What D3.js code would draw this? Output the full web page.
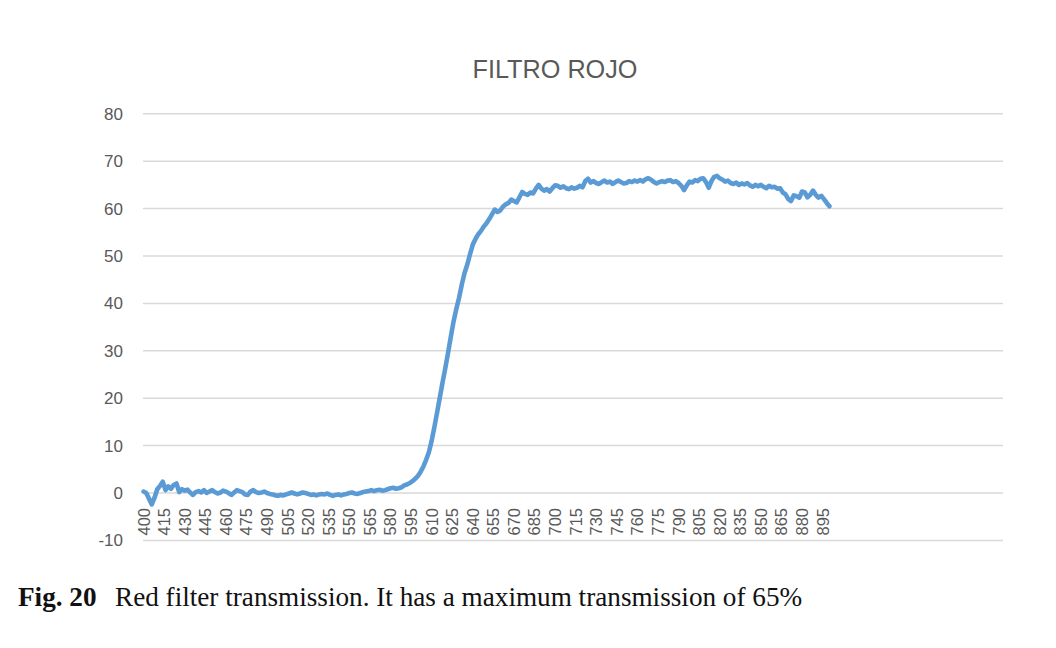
<!DOCTYPE html>
<html>
<head>
<meta charset="utf-8">
<script src="https://cdn.jsdelivr.net/npm/d3@7"></script>
<style>
  html, body { margin: 0; padding: 0; background: #fff; }
  svg { display: block; }
</style>
</head>
<body>
<svg id="chart" width="1056" height="648"></svg>
<script>
// ---- data ----
const title = "FILTRO ROJO";
const captionBold = "Fig. 20";
const captionText = "Red filter transmission. It has a maximum transmission of 65%";

const wavelengthStart = 400;
const wavelengthStep = 2;
const transmission = [
  0.3, 0.0, -1.2, -2.4, -1.0, 0.8, 1.5, 2.4, 0.6, 1.4,
  0.9, 1.7, 2.0, 0.2, 0.8, 0.5, 0.7, 0.1, -0.4, 0.2,
  0.4, 0.1, 0.6, 0.0, 0.3, 0.6, 0.2, -0.1, 0.1, 0.5,
  0.3, 0.0, -0.4, 0.1, 0.6, 0.4, 0.2, -0.3, -0.4, 0.3,
  0.6, 0.2, 0.0, 0.1, 0.3, 0.0, -0.2, -0.3, -0.5, -0.6,
  -0.4, -0.5, -0.3, -0.1, 0.1, -0.1, -0.3, -0.1, 0.1, 0.0,
  -0.2, -0.4, -0.3, -0.5, -0.3, -0.2, -0.3, -0.1, -0.4, -0.6,
  -0.4, -0.3, -0.5, -0.3, -0.2, 0.0, 0.1, -0.1, -0.2, 0.0,
  0.2, 0.3, 0.4, 0.6, 0.4, 0.6, 0.7, 0.5, 0.6, 0.8,
  1.0, 1.1, 0.9, 1.0, 1.2, 1.6, 1.8, 2.1, 2.5, 3.0,
  3.6, 4.5, 5.6, 7.0, 8.6, 11.0, 13.9, 17.0, 20.2, 23.4,
  26.4, 29.6, 33.0, 36.2, 38.8, 41.2, 44.0, 46.4, 48.2, 50.4,
  52.4, 53.6, 54.6, 55.3, 56.2, 56.9, 57.8, 58.8, 59.8, 59.3,
  59.6, 60.4, 60.9, 61.2, 61.9, 61.6, 61.3, 62.4, 63.5, 63.1,
  62.9, 63.4, 63.2, 64.2, 65.0, 64.2, 63.8, 64.1, 63.6, 64.3,
  64.9, 64.8, 64.4, 64.7, 64.3, 64.1, 64.5, 64.2, 64.4, 64.8,
  64.5, 65.8, 66.3, 65.5, 65.8, 65.4, 65.2, 65.6, 65.9, 65.5,
  65.7, 65.2, 65.6, 65.9, 65.6, 65.3, 65.4, 65.8, 65.6, 65.9,
  65.7, 66.0, 65.7, 66.2, 66.4, 66.1, 65.6, 65.3, 65.6, 65.8,
  65.6, 65.9, 66.0, 65.6, 65.8, 65.4, 64.8, 63.9, 64.9, 65.7,
  65.5, 66.0, 65.8, 66.3, 66.4, 65.6, 64.4, 65.8, 66.7, 66.9,
  66.4, 66.1, 65.7, 65.9, 65.4, 65.2, 65.5, 65.0, 65.3, 65.1,
  65.4, 64.9, 64.6, 65.0, 64.7, 65.0, 64.6, 64.3, 64.8, 64.5,
  64.6, 64.2, 64.3, 63.4, 63.0, 62.0, 61.6, 62.8, 62.6, 62.3,
  63.6, 63.4, 62.4, 62.9, 63.8, 62.9, 62.3, 62.7, 62.0, 61.2,
  60.5
];
const xTickLabels = [400, 415, 430, 445, 460, 475, 490, 505, 520, 535, 550, 565, 580,
  595, 610, 625, 640, 655, 670, 685, 700, 715, 730, 745, 760, 775, 790, 805,
  820, 835, 850, 865, 880, 895];
const yTickLabels = [-10, 0, 10, 20, 30, 40, 50, 60, 70, 80];

// ---- chart ----
const svg = d3.select("#chart");
const plot = { left: 143, right: 1003, top: 113.8, bottom: 540.4 };

const x = d3.scaleLinear().domain([399.6, 1026.5]).range([plot.left, plot.right]);
const y = d3.scaleLinear().domain([-10, 80]).range([plot.bottom, plot.top]);

const points = transmission.map((v, i) => ({ wl: wavelengthStart + i * wavelengthStep, v }));

// gridlines
svg.append("g")
  .selectAll("line")
  .data(yTickLabels)
  .join("line")
  .attr("x1", plot.left).attr("x2", plot.right)
  .attr("y1", d => y(d)).attr("y2", d => y(d))
  .attr("stroke", "#d9d9d9")
  .attr("stroke-width", 1.5);

// y labels
svg.append("g")
  .selectAll("text")
  .data(yTickLabels)
  .join("text")
  .attr("x", 123)
  .attr("y", d => y(d))
  .attr("dy", "0.35em")
  .attr("text-anchor", "end")
  .attr("font-family", "Liberation Sans, Arial, sans-serif")
  .attr("font-size", 17)
  .attr("fill", "#595959")
  .text(d => d);

// x labels (rotated), placed beneath the zero axis
svg.append("g")
  .selectAll("text")
  .data(xTickLabels)
  .join("text")
  .attr("transform", d => `translate(${x(d)},${y(0) + 15}) rotate(-90)`)
  .attr("dy", "0.36em")
  .attr("text-anchor", "end")
  .attr("font-family", "Liberation Sans, Arial, sans-serif")
  .attr("font-size", 16.5)
  .attr("fill", "#595959")
  .text(d => d);

// line
const line = d3.line().x(d => x(d.wl)).y(d => y(d.v));
svg.append("path")
  .datum(points)
  .attr("d", line)
  .attr("fill", "none")
  .attr("stroke", "#5b9bd5")
  .attr("stroke-width", 4.6)
  .attr("stroke-linejoin", "round")
  .attr("stroke-linecap", "round");

// title
svg.append("text")
  .attr("x", 555)
  .attr("y", 78)
  .attr("text-anchor", "middle")
  .attr("font-family", "Liberation Sans, Arial, sans-serif")
  .attr("font-size", 25)
  .attr("fill", "#595959")
  .attr("textLength", 165)
  .attr("lengthAdjust", "spacingAndGlyphs")
  .text(title);

// caption
const cap = svg.append("text")
  .attr("x", 18)
  .attr("y", 606)
  .attr("font-family", "Liberation Serif, Times New Roman, serif")
  .attr("font-size", 27.2)
  .attr("fill", "#111");
cap.append("tspan").attr("font-weight", "bold").text(captionBold);
cap.append("tspan").attr("x", 115).text(captionText);
</script>
</body>
</html>
